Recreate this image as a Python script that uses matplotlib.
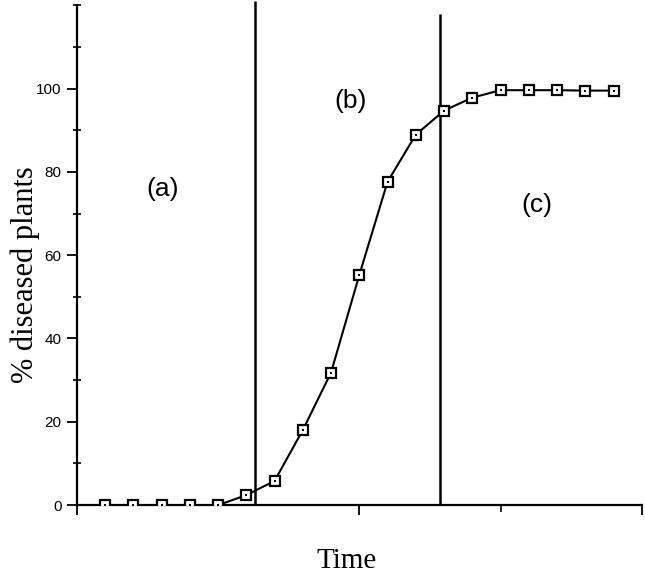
import numpy as np
import matplotlib.pyplot as plt
from matplotlib.ticker import MultipleLocator, FixedLocator

time_steps = np.arange(1, 20)
diseased_pct = [0, 0, 0, 0, 0, 2.4, 5.8, 18, 31.8, 55.2, 77.6, 88.9,
                94.7, 97.8, 99.6, 99.6, 99.6, 99.5, 99.5]
phase_bounds = [6.3, 12.85]
phase_labels = ['(a)', '(b)', '(c)']
phase_label_pos = [(3.05, 76), (9.7, 97), (16.3, 72)]

SERIF = 'Liberation Serif'
SANS = 'Liberation Sans'


def main():
    fig = plt.figure(figsize=(6.45, 5.76), dpi=100)
    ax = fig.add_axes([0.119, 0.123, 0.876, 0.868])

    ax.plot(time_steps, diseased_pct, color='black', lw=1.5, zorder=3)
    ax.plot(time_steps, diseased_pct, ls='none', marker='s', ms=7.5,
            mfc='white', mec='black', mew=1.6, zorder=4)
    ax.plot(time_steps, diseased_pct, ls='none', marker='s', ms=2,
            mfc='black', mec='black', mew=0, zorder=5)

    ax.vlines(phase_bounds[0], 0, 121, color='black', lw=1.8, zorder=2, clip_on=False)
    ax.vlines(phase_bounds[1], 0, 118, color='black', lw=1.8, zorder=2)

    for lab, (x, y) in zip(phase_labels, phase_label_pos):
        ax.text(x, y, lab, fontsize=19, family=SANS, ha='center', va='center')

    ax.set_xlim(0, 20)
    ax.set_ylim(0, 120)
    ax.spines['top'].set_visible(False)
    ax.spines['right'].set_visible(False)
    for s in ['left', 'bottom']:
        ax.spines[s].set_linewidth(1.6)

    ax.xaxis.set_major_locator(FixedLocator([0, 10, 20]))
    ax.xaxis.set_minor_locator(FixedLocator([15]))
    ax.set_xticklabels([])
    ax.tick_params(axis='x', which='major', direction='out', length=7, width=1.3)
    ax.tick_params(axis='x', which='minor', direction='out', length=5, width=1.2)

    ax.yaxis.set_major_locator(FixedLocator([0, 20, 40, 60, 80, 100]))
    ax.yaxis.set_minor_locator(MultipleLocator(10))
    ax.tick_params(axis='y', which='major', direction='out', length=7, width=1.3,
                   labelsize=11, pad=4)
    ax.tick_params(axis='y', which='minor', direction='inout', length=6, width=1.2)
    for t in ax.get_yticklabels():
        t.set_family(SANS)

    fig.text(347 / 645, 1 - 561 / 576, 'Time', family=SERIF, fontsize=21,
             ha='center', va='center')
    fig.text(25 / 645, 1 - 275 / 576, '% diseased plants', family=SERIF,
             fontsize=22, rotation=90, ha='center', va='center')

    fig.savefig('out.png', dpi=100)


if __name__ == '__main__':
    main()
